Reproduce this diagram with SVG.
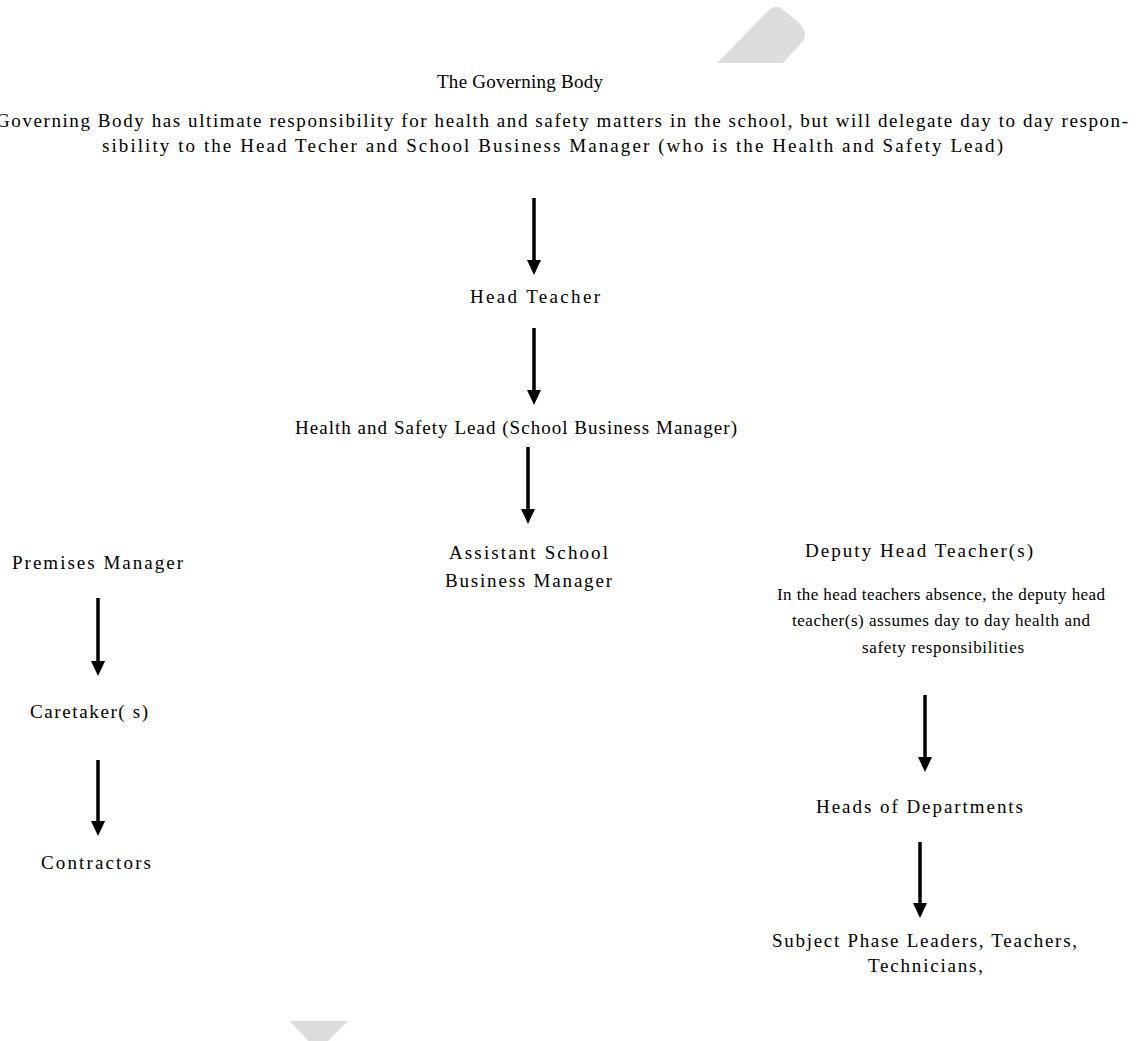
<svg xmlns="http://www.w3.org/2000/svg" width="1137" height="1041" viewBox="0 0 1137 1041">
<style>
text{font-family:"Liberation Serif","Times New Roman",serif;font-size:19px;fill:#000}
text.small{font-size:17px}
.arrow{stroke:#000;stroke-width:3.5;fill:none;marker-end:url(#ah)}
.deco{fill:#dddddd}
</style>
<defs>
<marker id="ah" markerUnits="userSpaceOnUse" markerWidth="15" markerHeight="14" refX="3" refY="7" orient="auto" viewBox="0 0 15 14">
<path d="M0,0 L15,7 L0,14 Z" fill="#000"/>
</marker>
</defs>
<rect width="1137" height="1041" fill="#fff"/>
<path class="deco" d="M717,63 L768,11 Q774,5 781,8 L798,22 Q809,32 803,41 L783,63 Z"/>
<path class="deco" d="M290,1021 L348,1021 L328,1041 L308,1041 Z"/>
<g id="connectors">
<line class="arrow" x1="534" y1="198" x2="534" y2="263"/>
<line class="arrow" x1="534" y1="328" x2="534" y2="393"/>
<line class="arrow" x1="528" y1="447" x2="528" y2="512"/>
<line class="arrow" x1="98" y1="598" x2="98" y2="664"/>
<line class="arrow" x1="98" y1="760" x2="98" y2="824"/>
<line class="arrow" x1="925" y1="695" x2="925" y2="760"/>
<line class="arrow" x1="920" y1="842" x2="920" y2="906"/>
</g>
<g id="governing-body">
<text x="437" y="88" textLength="166" lengthAdjust="spacing">The Governing Body</text>
<text x="-4" y="127" textLength="1132" lengthAdjust="spacing">Governing Body has ultimate responsibility for health and safety matters in the school, but will delegate day to day respon-</text>
<text x="102" y="152" textLength="901" lengthAdjust="spacing">sibility to the Head Techer and School Business Manager (who is the Health and Safety Lead)</text>
</g>
<g id="head-teacher">
<text x="470" y="303" textLength="130" lengthAdjust="spacing">Head Teacher</text>
</g>
<g id="hs-lead">
<text x="295" y="434" textLength="442" lengthAdjust="spacing">Health and Safety Lead (School Business Manager)</text>
</g>
<g id="assistant-sbm">
<text x="449" y="559" textLength="159" lengthAdjust="spacing">Assistant School</text>
<text x="445" y="587" textLength="167" lengthAdjust="spacing">Business Manager</text>
</g>
<g id="premises-manager">
<text x="12" y="569" textLength="171" lengthAdjust="spacing">Premises Manager</text>
</g>
<g id="caretakers">
<text x="30" y="718" textLength="118" lengthAdjust="spacing">Caretaker( s)</text>
</g>
<g id="contractors">
<text x="41" y="869" textLength="110" lengthAdjust="spacing">Contractors</text>
</g>
<g id="deputy-head">
<text x="805" y="557" textLength="228" lengthAdjust="spacing">Deputy Head Teacher(s)</text>
<text class="small" x="777" y="600" textLength="328" lengthAdjust="spacing">In the head teachers absence, the deputy head</text>
<text class="small" x="792" y="626" textLength="298" lengthAdjust="spacing">teacher(s) assumes day to day health and</text>
<text class="small" x="862" y="653" textLength="162" lengthAdjust="spacing">safety responsibilities</text>
</g>
<g id="heads-of-departments">
<text x="816" y="813" textLength="207" lengthAdjust="spacing">Heads of Departments</text>
</g>
<g id="subject-leaders">
<text x="772" y="947" textLength="305" lengthAdjust="spacing">Subject Phase Leaders, Teachers,</text>
<text x="868" y="972" textLength="115" lengthAdjust="spacing">Technicians,</text>
</g>
</svg>
